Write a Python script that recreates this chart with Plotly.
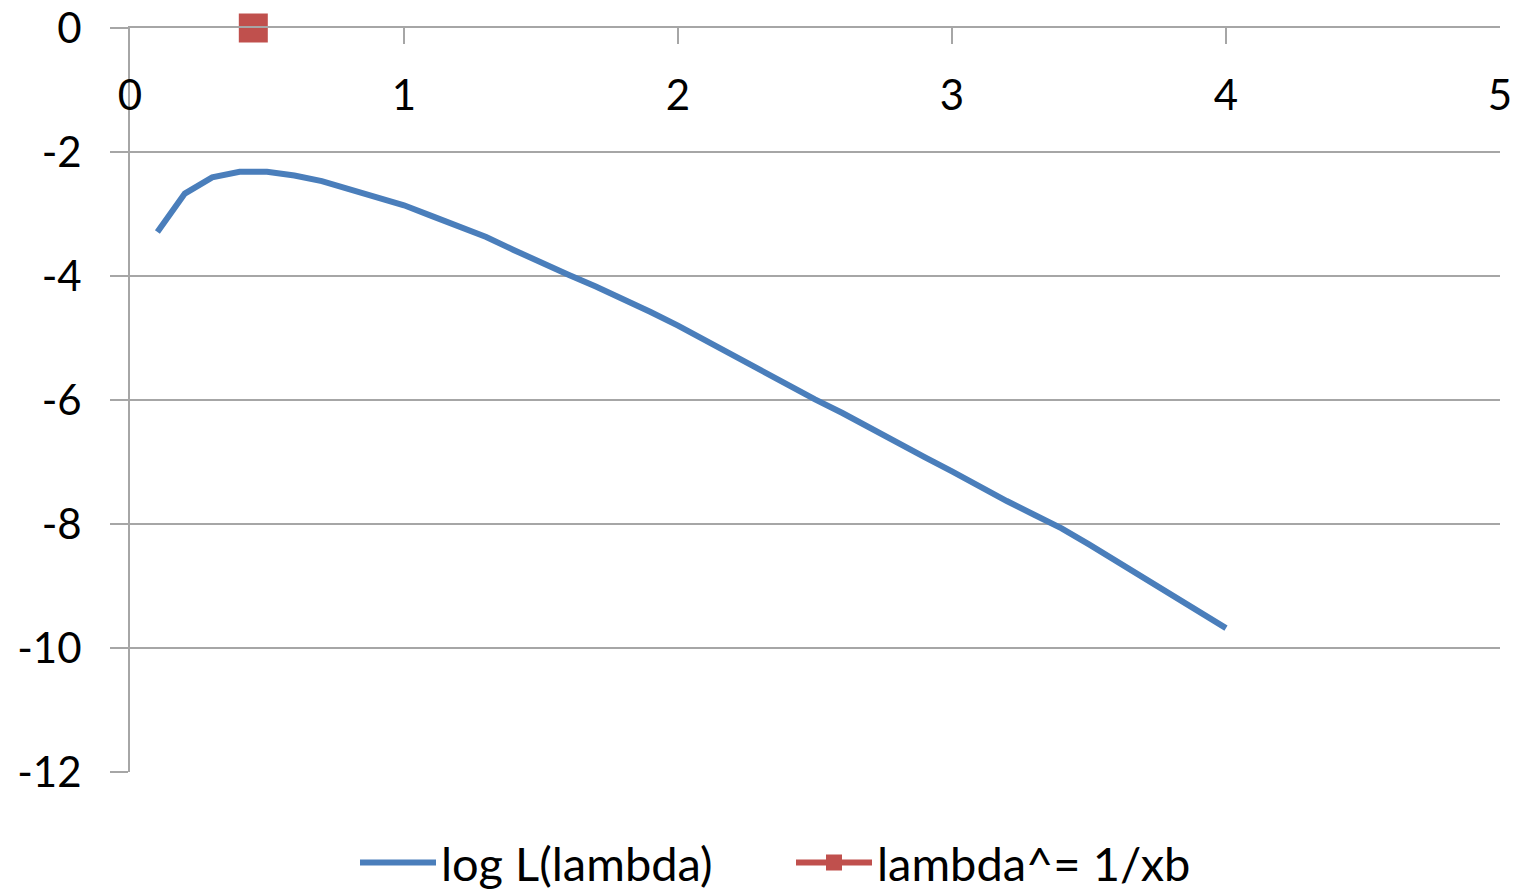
import plotly.graph_objects as go

# Data
lam = [0.1, 0.2, 0.3, 0.4, 0.5, 0.6, 0.7, 0.8, 0.9, 1.0,
       1.1, 1.2, 1.3, 1.4, 1.5, 1.6, 1.7, 1.8, 1.9, 2.0,
       2.1, 2.2, 2.3, 2.4, 2.5, 2.6, 2.7, 2.8, 2.9, 3.0,
       3.1, 3.2, 3.3, 3.4, 3.5, 3.6, 3.7, 3.8, 3.9, 4.0]
logL = [-3.29, -2.67, -2.41, -2.32, -2.32, -2.38, -2.47, -2.60, -2.71, -2.86,
        -3.03, -3.20, -3.37, -3.58, -3.79, -3.98, -4.17, -4.37, -4.58, -4.80,
        -5.04, -5.28, -5.51, -5.75, -5.99, -6.21, -6.45, -6.70, -6.92, -7.15,
        -7.40, -7.63, -7.85, -8.07, -8.33, -8.60, -8.87, -9.13, -9.40, -9.68]
lam_hat_x = [0.45]
lam_hat_y = [0.0]

x_ticks = [0, 1, 2, 3, 4, 5]
y_ticks = [0, -2, -4, -6, -8, -10, -12]

FONT = "Lato"
GRID = "#A6A6A6"

fig = go.Figure()
fig.add_trace(go.Scatter(
    x=lam, y=logL, mode="lines", name="log L(lambda)",
    line=dict(color="#4A7EBB", width=6),
))
fig.add_trace(go.Scatter(
    x=lam_hat_x, y=lam_hat_y, mode="lines+markers", name="lambda^= 1/xb",
    xaxis="x2", yaxis="y",
    line=dict(color="#C0504D", width=6),
    marker=dict(symbol="square", size=29, color="#C0504D"),
    cliponaxis=False,
))

fig.update_layout(
    width=1521, height=892,
    margin=dict(l=130, r=21, t=28, b=120),
    paper_bgcolor="white", plot_bgcolor="white",
    font=dict(family=FONT, size=42, color="black"),
    showlegend=True,
    legend=dict(
        orientation="h", xref="container", yref="container",
        x=355 / 1521, xanchor="left", y=1 - 863 / 892, yanchor="middle",
        font=dict(family=FONT, size=47), itemwidth=76,
        entrywidth=345, entrywidthmode="pixels",
        bgcolor="rgba(0,0,0,0)",
    ),
    xaxis=dict(
        range=[0, 5], tickvals=x_ticks,
        side="top", ticks="inside", ticklen=16, tickcolor=GRID, tickwidth=2,
        showticklabels=False,
        showline=True, linecolor=GRID, linewidth=2,
        showgrid=False, zeroline=False, automargin=False,
    ),
    xaxis2=dict(
        range=[0, 5], tickvals=x_ticks, ticktext=[str(v) for v in x_ticks],
        overlaying="x", anchor="free", position=(772 - 118) / 744, side="top",
        ticks="", showline=False, showgrid=False, zeroline=False,
        automargin=False,
        tickfont=dict(family=FONT, size=42),
    ),
    yaxis=dict(
        range=[-12, 0], tickvals=y_ticks, ticktext=[str(v) for v in y_ticks],
        ticks="outside", ticklen=18, tickcolor=GRID, tickwidth=2,
        showline=True, linecolor=GRID, linewidth=2,
        showgrid=True, gridcolor=GRID, gridwidth=2,
        zeroline=False, ticklabelstandoff=20, automargin=False,
        tickfont=dict(family=FONT, size=42),
    ),
)

fig.write_html("out.html")
